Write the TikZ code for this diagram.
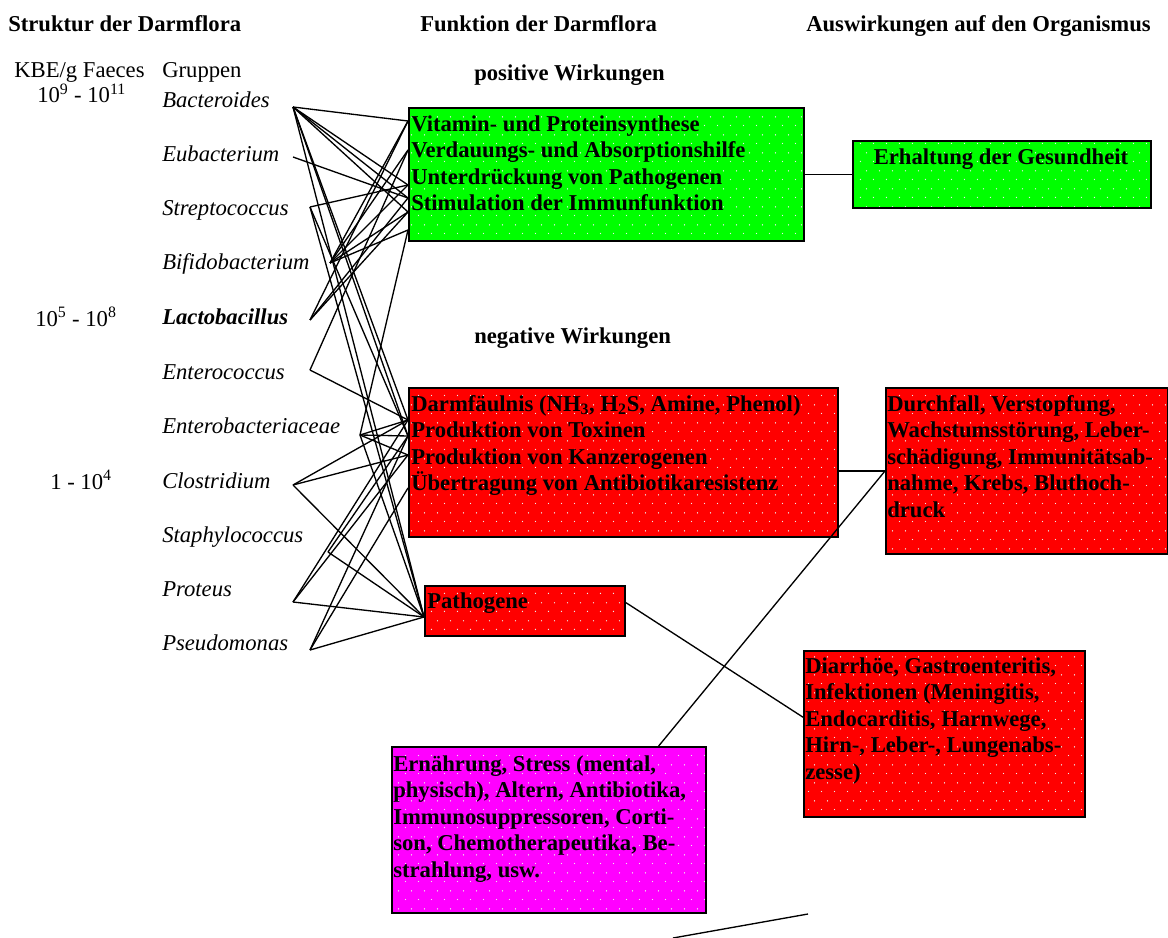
\documentclass[tikz,border=0pt]{standalone}
\usepackage{fontspec}
\setmainfont{Liberation Serif}
\usetikzlibrary{patterns,calc}
\definecolor{pgreen}{RGB}{0,255,0}
\definecolor{pred}{RGB}{255,0,0}
\definecolor{pmag}{RGB}{255,0,255}
\pgfdeclarepatternformonly{sdots}{\pgfqpoint{0pt}{0pt}}{\pgfqpoint{9.75pt}{13.5pt}}{\pgfqpoint{9.75pt}{13.5pt}}{%
  \pgfpathcircle{\pgfqpoint{2pt}{2pt}}{0.55pt}%
  \pgfpathcircle{\pgfqpoint{6.875pt}{8.75pt}}{0.55pt}%
  \pgfusepath{fill}}
\newcommand{\fstrut}{\rule{0pt}{12pt}}
\begin{document}
\begin{tikzpicture}[x=0.75pt,y=-0.75pt,
  font=\fontsize{17}{19.9}\selectfont,
  box/.style 2 args={draw=black, line width=1.5pt, preaction={fill=#1}, pattern=sdots,
     pattern color=white!85!gray, inner sep=0pt, anchor=north west, minimum width=#2},
  bh/.style={minimum height=#1},
  txt/.style={anchor=north west, inner sep=0pt, align=left, font=\bfseries\fontsize{17}{19.9}\selectfont},
  lbl/.style={anchor=base west, inner sep=0pt},
  head/.style={anchor=base west, inner sep=0pt, font=\bfseries\fontsize{17}{19.9}\selectfont},
  bac/.style={anchor=base west, inner sep=0pt, font=\itshape\fontsize{17}{19.9}\selectfont},
  con/.style={line width=1pt, black}]
\useasboundingbox (0,0) rectangle (1168,938);

% headings
\node[head] (h1) at (8,32) {Struktur der Darmflora};
\node[head] (h2) at (420,32) {Funktion der Darmflora};
\node[head] (h3) at (806,32) {Auswirkungen auf den Organismus};
\node[lbl] (kbe) at (14,78) {KBE/g Faeces};
\node[lbl] (grp) at (162,78) {Gruppen};
\node[lbl] (n1) at (37,103) {10\textsuperscript{9} - 10\textsuperscript{11}};
\node[lbl] (n2) at (35,326) {10\textsuperscript{5} - 10\textsuperscript{8}};
\node[lbl] (n3) at (50,489) {1 - 10\textsuperscript{4}};
\node[head] (pos) at (474,81) {positive Wirkungen};
\node[head] (neg) at (474,343) {negative Wirkungen};

% bacteria
\node[bac] (bBac) at (162,108) {Bacteroides};
\node[bac] (bEub) at (162,162) {Eubacterium};
\node[bac] (bStr) at (162,216) {Streptococcus};
\node[bac] (bBif) at (162,270) {Bifidobacterium};
\node[bac,font=\bfseries\itshape\fontsize{17}{19.9}\selectfont] (bLac) at (162,325) {Lactobacillus};
\node[bac] (bEnc) at (162,379) {Enterococcus};
\node[bac] (bEnb) at (162,433) {Enterobacteriaceae};
\node[bac] (bClo) at (162,488) {Clostridium};
\node[bac] (bSta) at (162,542) {Staphylococcus};
\node[bac] (bPro) at (162,596) {Proteus};
\node[bac] (bPse) at (162,650) {Pseudomonas};

% line end points at the bacteria
\coordinate (eBac) at (293,107);
\coordinate (eEub) at (293,157);
\coordinate (eStr) at (310,207);
\coordinate (eBif) at (330,263);
\coordinate (eLac) at (310,320);
\coordinate (eEnc) at (310,370);
\coordinate (eEnb) at (360,435);
\coordinate (eClo) at (293,485);
\coordinate (eSta) at (328,552);
\coordinate (ePro) at (293,602);
\coordinate (ePse) at (310,650);

% boxes
\node[box={pgreen}{296.25pt}, bh=99.75pt] (G1) at (408,107) {};
\node[box={pgreen}{223.5pt}, bh=50.25pt] (G2) at (852,140) {};
\node[box={pred}{321.75pt}, bh=111.75pt] (R1) at (408,387) {};
\node[box={pred}{211.5pt}, bh=124.5pt] (R2) at (885,387) {};
\node[box={pred}{150pt}, bh=37.5pt] (P) at (424,585) {};
\node[box={pred}{210.75pt}, bh=124.5pt] (R3) at (803,650) {};
\node[box={pmag}{235.5pt}, bh=124.5pt] (M) at (391,746) {};

% box texts
\node[txt] (tG1) at (411,115) {\fstrut Vitamin- und Proteinsynthese\\Verdauungs- und Absorptionshilfe\\Unterdrückung von Pathogenen\\Stimulation der Immunfunktion};
\node[txt, anchor=north] (tG2) at (1001,148) {\fstrut Erhaltung der Gesundheit};
\node[txt] (tR1) at (411,395) {\fstrut Darmfäulnis (NH\textsubscript{3}, H\textsubscript{2}S, Amine, Phenol)\\Produktion von Toxinen\\Produktion von Kanzerogenen\\Übertragung von Antibiotikaresistenz};
\node[txt] (tR2) at (887,395) {\fstrut Durchfall, Verstopfung,\\Wachstumsstörung, Leber-\\schädigung, Immunitätsab-\\nahme, Krebs, Bluthoch-\\druck};
\node[txt] (tP) at (427,592) {\fstrut Pathogene};
\node[txt] (tR3) at (805,657) {\fstrut Diarrhöe, Gastroenteritis,\\Infektionen (Meningitis,\\Endocarditis, Harnwege,\\Hirn-, Leber-, Lungenabs-\\zesse)};
\node[txt] (tM) at (393,755) {\fstrut Ernährung, Stress (mental,\\physisch), Altern, Antibiotika,\\Immunosuppressoren, Corti-\\son, Chemotherapeutika, Be-\\strahlung, usw.};

% target points on the boxes
\coordinate (g1) at (408,121);
\coordinate (g2) at (408,150);
\coordinate (g3) at (408,185);
\coordinate (g4) at (408,198);
\coordinate (g5) at (408,212);
\coordinate (g6) at (408,230);
\coordinate (r1) at (408,420);
\coordinate (r2) at (408,436);
\coordinate (r3) at (408,455);
\coordinate (r4) at (408,488);
\coordinate (pp) at (424,617);

% connectors bacteria -> functions
\foreach \t in {g1,g3,g4,g5,r1,r2,pp} \draw[con] (eBac) -- (\t);
\foreach \t in {g4} \draw[con] (eEub) -- (\t);
\foreach \t in {g3,r2,pp} \draw[con] (eStr) -- (\t);
\foreach \t in {g1,g2,g3,g5,g6} \draw[con] (eBif) -- (\t);
\foreach \t in {g1,g4,g5} \draw[con] (eLac) -- (\t);
\foreach \t in {g2,r1} \draw[con] (eEnc) -- (\t);
\foreach \t in {g6,r1,r2,r3,pp} \draw[con] (eEnb) -- (\t);
\foreach \t in {r1,r3,pp} \draw[con] (eClo) -- (\t);
\foreach \t in {r2,pp} \draw[con] (eSta) -- (\t);
\foreach \t in {r1,r3,pp} \draw[con] (ePro) -- (\t);
\foreach \t in {r2,r4,pp} \draw[con] (ePse) -- (\t);

% connectors functions -> effects
\draw[con] (G1.east) -- (G2.west);
\draw[con] (R2.west -| R1.east) -- (R2.west);
\draw[con] ($(P.north east)!0.34!(P.south east)$) -- ($(R3.north west)!0.4!(R3.south west)$);
\draw[con] ($(M.north west)!0.847!(M.north east)$) -- (R2.west);

% stray line at the bottom
\coordinate (s1) at (673,938);
\coordinate (s2) at (808,914);
\draw[con] (s1) -- (s2);
\end{tikzpicture}
\end{document}
